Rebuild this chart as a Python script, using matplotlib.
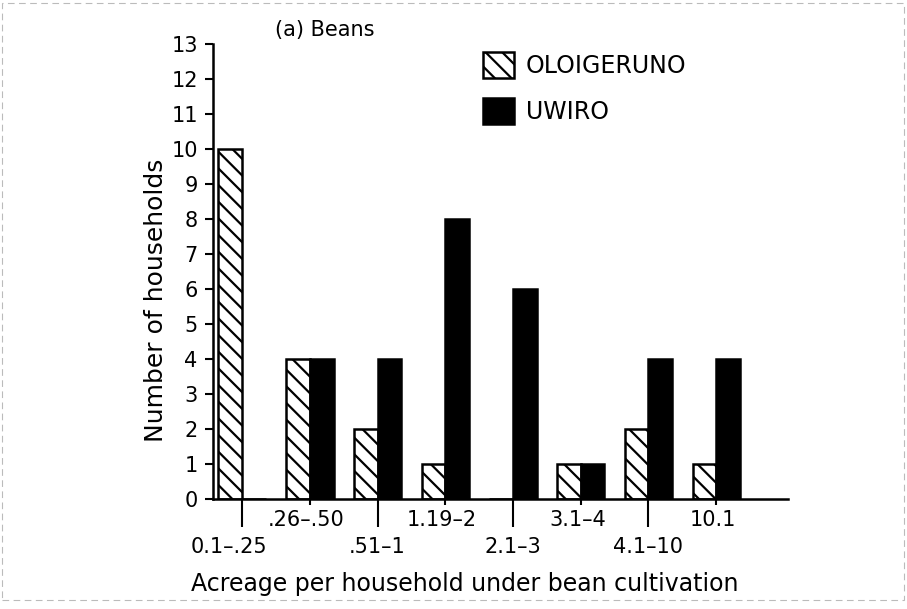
import matplotlib
matplotlib.use("Agg")
import matplotlib.pyplot as plt
import matplotlib.patches as mpatches
import numpy as np

categories = ["0.1\u2013.25", ".26\u2013.50", ".51\u20131", "1.19\u20132",
              "2.1\u20133", "3.1\u20134", "4.1\u201310", "10.1"]
oloigeruno = [10, 4, 2, 1, 0, 1, 2, 1]
uwiro = [0, 4, 4, 8, 6, 1, 4, 4]
yticks = list(range(0, 14))

plt.rcParams["hatch.linewidth"] = 1.6
plt.rcParams["font.family"] = "DejaVu Sans"

fig = plt.figure(figsize=(9.07, 6.09), dpi=100)
W, H = 907, 609
ax = fig.add_axes([213 / W, 1 - 499 / H, 575 / W, 455 / H])

x = np.arange(len(categories))
width = 0.35
ax.bar(x - width / 2, oloigeruno, width, color="white", edgecolor="black",
       linewidth=1.8, hatch="\\\\", label="OLOIGERUNO")
ax.bar(x + width / 2, uwiro, width, color="black", edgecolor="black",
       linewidth=1.8, label="UWIRO")

ax.set_xlim(-0.43, 8.06)
ax.set_ylim(0, 13)
ax.set_yticks(yticks)
ax.set_yticklabels([str(v) for v in yticks], fontsize=15)
ax.tick_params(axis="y", direction="out", length=6, width=1.5, pad=5)

# long ticks under the lower-row labels, short ones under the upper-row labels
ax.set_xticks(x[::2])
ax.set_xticks(x[1::2], minor=True)
ax.set_xticklabels([])
ax.tick_params(axis="x", which="major", direction="out", length=20, width=1.5)
ax.tick_params(axis="x", which="minor", direction="out", length=4, width=1.5)

for side in ["top", "right"]:
    ax.spines[side].set_visible(False)
for side in ["left", "bottom"]:
    ax.spines[side].set_linewidth(1.8)

# category labels on two staggered rows
trans = matplotlib.transforms.blended_transform_factory(ax.transData, ax.transAxes)
for i, lab in enumerate(categories):
    if i % 2 == 0:
        yy = -0.105
        xx = i - 0.2 if i == 0 else i
    else:
        yy = -0.046
        xx = i - 0.05
    ax.text(xx, yy, lab, transform=trans, ha="center", va="center", fontsize=15)

ax.set_ylabel("Number of households", fontsize=18)
ax.yaxis.set_label_coords(-0.078, 0.437)
ax.set_xlabel("Acreage per household under bean cultivation", fontsize=17)
ax.xaxis.set_label_coords(0.437, -0.16)

fig.text(275 / W, 1 - 30 / H, "(a) Beans", fontsize=15, va="center", ha="left")

ax.legend(loc="upper left", bbox_to_anchor=(483 / W, 1 - 52 / H),
          bbox_transform=fig.transFigure, frameon=False, fontsize=17,
          handlelength=1.3, handleheight=1.3, handletextpad=0.5,
          labelspacing=0.85, borderpad=0, borderaxespad=0)

# faint scan border
fig.patches.append(mpatches.Rectangle((0.002, 0.015), 0.995, 0.98,
                                      transform=fig.transFigure, fill=False,
                                      edgecolor="#bbbbbb", linewidth=0.8,
                                      linestyle=(0, (6, 4))))

fig.savefig("out.png", dpi=100)
